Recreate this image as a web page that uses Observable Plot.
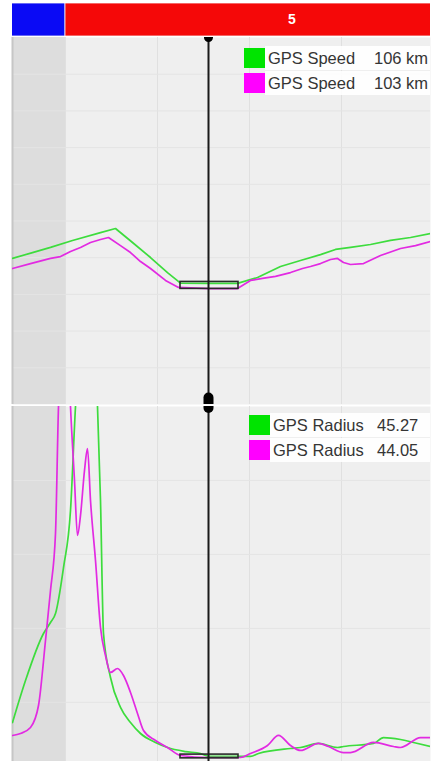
<!DOCTYPE html>
<html><head><meta charset="utf-8">
<script src="https://cdn.jsdelivr.net/npm/d3@7"></script>
<script src="https://cdn.jsdelivr.net/npm/@observablehq/plot@0.6"></script>
<style>
body{margin:0;background:#fff}
#wrap{position:relative;width:440px;height:761px;overflow:hidden;background:#fff;font-family:"Liberation Sans",Arial,sans-serif}
.layer{position:absolute;left:0}
.legend{position:absolute;overflow:hidden;color:#353535;font-size:16.5px;white-space:nowrap}
.legend .row{position:absolute;left:0;height:20px;right:0}
.legend .sw{position:absolute;left:0;top:0;width:21px;height:20px}
.legend .bg{position:absolute;left:21px;right:0;top:-2px;height:24px;background:rgba(255,255,255,0.9)}
.legend .nm,.legend .vl{position:absolute;top:0;line-height:20px}
</style>
</head><body>
<div id="wrap"></div>
<script>
// ---- data ----
const lapStart = [-40, 53];
const lapEnd = [53, 506];
const lapLabel = ["", "5"];
const cursorDist = 196;

const speedGreenDist = [0,20,38,60,88,103,120,138,155,168,196,225,245,268,288,308,323,338,358,378,398,418];
const speedGreenVal  = [119.6,122.8,125.6,129.4,133.7,135.9,128.3,120.1,111.9,106.1,106.0,106.0,109.2,115.2,118.5,121.7,124.5,125.6,127.2,129.4,131.0,133.2];
const speedMagDist = [0,18,38,48,58,68,78,88,96,108,118,128,138,153,166,196,225,238,250,263,278,290,298,308,318,325,331,338,351,368,388,403,418];
const speedMagVal  = [114.1,116.8,119.6,120.6,123.4,125.6,128.3,129.9,131.0,126.6,122.8,117.9,114.1,107.6,103.8,103.2,103.2,107.6,108.7,109.8,111.9,114.1,115.2,116.8,119.0,119.6,117.4,116.3,116.8,121.2,125.0,126.6,128.8];
const speedMinBox = {d1: 168, d2: 226, lo: 103.0, hi: 106.8};

const radGreenDist = [0,13,31,38,43,51,58,63,68,74,80,85,88,91,98,108,118,128,143,155,173,188,196,226,238,246,278,288,306,325,331,361,371,388,401,418];
const radGreenVal  = [79.5,122.1,169.8,181.0,190.1,236.7,294.5,400,477,538,477,400,304.7,169.8,125.2,94.8,79.5,68.4,59.3,54.2,50.1,48.1,45.27,45.1,45.1,48.1,53.2,54.2,58.3,54.2,55.2,58.3,64.3,62.3,59.3,55.2];
const radMagDist = [0,8,18,26,33,38,43,46,51,55,58,62,65,68,72,75,78,83,88,93,98,105,111,118,125,131,143,155,168,196,228,238,255,266,278,288,306,316,331,338,361,381,388,408,418];
const radMagVal  = [66.4,68.4,74.5,96.8,162.7,213.4,271.2,400,477,477,400,325,269.2,289.5,335.1,357.4,304.7,243.8,175.9,147.5,130.3,134.3,127.2,110.0,88.7,71.4,61.3,54.2,46.1,44.05,44.05,48.1,56.2,66.4,56.2,51.2,58.3,55.2,49.1,49.1,59.3,55.2,54.2,64.3,64.3];
const radMinBox = {d1: 168, d2: 226, lo: 43.2, hi: 47.0};

const speedLegendNames = ["GPS Speed", "GPS Speed"];
const speedLegendValues = ["106 km", "103 km"];
const radLegendNames = ["GPS Radius", "GPS Radius"];
const radLegendValues = ["45.27", "44.05"];

const speedTicks = [60,80,100,120,140,160,180,200,220];
const radTicks = [100,175,250,325];
const distTicks = [53,145,237,329];

// ---- build ----
const GREEN = "#3ddc3d", MAG = "#e22ae2";
const wrap = document.getElementById("wrap");
const zip = (xs, ys) => xs.map((x, i) => ({x, y: ys[i]}));
const laps = lapStart.map((s, i) => ({s, e: lapEnd[i], label: lapLabel[i]}));
const xDomain = [0, 418];

function addLayer(svg, top) {
  const div = document.createElement("div");
  div.className = "layer";
  div.style.top = top + "px";
  div.appendChild(svg);
  wrap.appendChild(div);
}

function panel(top, height, marginTop, yDomain, yTicks, series, box, curve) {
  const svg = Plot.plot({
    width: 440, height, marginLeft: 12, marginRight: 10, marginTop, marginBottom: 0,
    style: {background: "transparent", overflow: "visible"},
    x: {domain: xDomain, axis: null},
    y: {domain: yDomain, axis: null},
    marks: [
      Plot.frame({fill: "#efefef", stroke: null}),
      Plot.rect([laps[0]], {x1: "s", x2: "e", y1: yDomain[0], y2: yDomain[1], fill: "#dddddd", clip: true}),
      Plot.gridX(distTicks, {stroke: "#e0e0e0", strokeOpacity: 1}),
      Plot.gridY(yTicks, {stroke: "#e4e4e4", strokeOpacity: 1}),
      Plot.ruleX([xDomain[0]], {stroke: "#c6c6c6", strokeWidth: 2}),
      ...series.map(s => Plot.line(s.data, {x: "x", y: "y", stroke: s.color, strokeWidth: 1.7, curve, clip: true})),
      Plot.rect([box], {x1: "d1", x2: "d2", y1: "lo", y2: "hi", stroke: "#2a2a2a", strokeWidth: 1.6, fill: "none", clip: true}),
      Plot.ruleX([cursorDist], {stroke: "#1a1a1a", strokeWidth: 2})
    ]
  });
  addLayer(svg, top);
}

// speed panel
panel(27, 377, 10, [40, 240], speedTicks,
  [{data: zip(speedGreenDist, speedGreenVal), color: GREEN}, {data: zip(speedMagDist, speedMagVal), color: MAG}],
  speedMinBox, "linear");
addLayer(Plot.plot({
  width: 440, height: 377, marginLeft: 12, marginRight: 10, marginTop: 10, marginBottom: 0,
  style: {background: "transparent"},
  x: {domain: xDomain, axis: null}, y: {domain: [40, 240], axis: null},
  marks: [
    Plot.dot([cursorDist], {x: d => d, frameAnchor: "top", r: 4.5, fill: "#000", clip: true}),
    Plot.ruleX([cursorDist], {x: d => d, y1: 40, y2: 43.5, stroke: "#000", strokeWidth: 10, strokeLinecap: "round", clip: true})
  ]
}), 27);

// radius panel
panel(395, 366, 11, [40, 400], radTicks,
  [{data: zip(radGreenDist, radGreenVal), color: GREEN}, {data: zip(radMagDist, radMagVal), color: MAG}],
  radMinBox, "monotone-x");
addLayer(Plot.plot({
  width: 440, height: 366, marginLeft: 12, marginRight: 10, marginTop: 11, marginBottom: 0,
  style: {background: "transparent"},
  x: {domain: xDomain, axis: null}, y: {domain: [40, 400], axis: null},
  marks: [
    Plot.ruleX([cursorDist], {x: d => d, y1: 400, y2: 398, stroke: "#000", strokeWidth: 10, strokeLinecap: "round", clip: true})
  ]
}), 395);

// lap bar
addLayer(Plot.plot({
  width: 440, height: 37, marginLeft: 12, marginRight: 10, marginTop: 3, marginBottom: 1,
  style: {background: "transparent"},
  x: {domain: xDomain, axis: null}, y: {domain: [0, 1], axis: null},
  marks: [
    Plot.rect(laps, {x1: "s", x2: "e", y1: 0, y2: 1, fill: (d, i) => i === 0 ? "#0a0af5" : "#f50808", stroke: "#f4f4f4", strokeWidth: 0.8, clip: true}),
    Plot.text(laps, {x: d => (d.s + d.e) / 2, text: "label", frameAnchor: "middle", fill: "white", fontWeight: "bold", fontSize: 14, fontFamily: "Liberation Sans, Arial, sans-serif"})
  ]
}), 0);

// legends
function legend(left, top, names, values, valueOffset) {
  const lg = document.createElement("div");
  lg.className = "legend";
  lg.style.left = left + "px"; lg.style.top = top + "px";
  lg.style.width = (430 - left) + "px"; lg.style.height = "50px";
  names.forEach((n, i) => {
    const row = document.createElement("div");
    row.className = "row";
    row.style.top = (2 + i * 25) + "px";
    row.innerHTML = `<div class="bg"></div><div class="sw" style="background:${i === 0 ? "#00e400" : "#ff00ff"}"></div>` +
      `<div class="nm" style="left:24px">${n}</div><div class="vl" style="left:${valueOffset}px">${values[i]}</div>`;
    lg.appendChild(row);
  });
  wrap.appendChild(lg);
}
legend(244, 46, speedLegendNames, speedLegendValues, 130);
legend(249, 413, radLegendNames, radLegendValues, 128);
</script>
</body></html>
